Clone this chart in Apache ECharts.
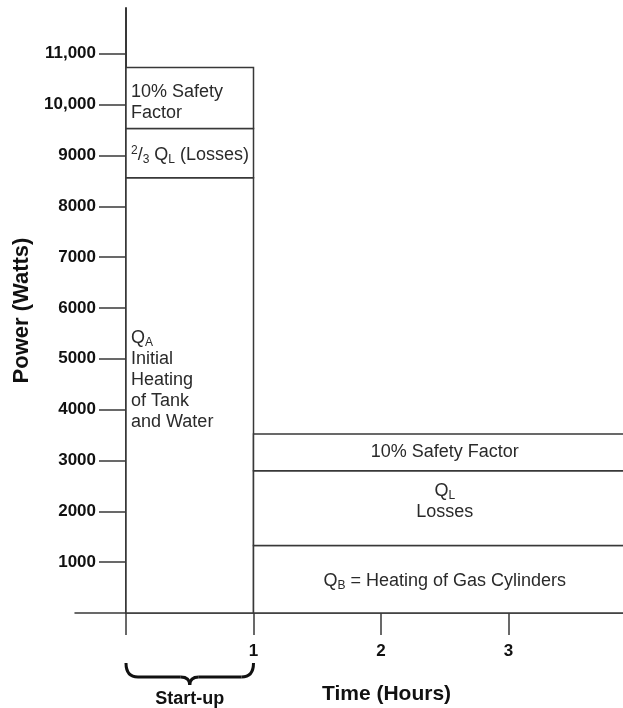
<!DOCTYPE html>
<html>
<head>
<meta charset="utf-8">
<script src="https://cdn.jsdelivr.net/npm/echarts@6/dist/echarts.min.js"></script>
<style>
  html, body { margin: 0; padding: 0; background: #fff; }
  #chart { width: 623px; height: 708px; }
</style>
</head>
<body>
<div id="chart"></div>
<script>
// axis ticks
const hourTicks = [0, 1, 2, 3]
const hourLabelValues = [1, 2, 3]
const powerTicks = [1000, 2000, 3000, 4000, 5000, 6000, 7000, 8000, 9000, 10000, 11000]
const powerTickLabels = ['1000', '2000', '3000', '4000', '5000', '6000', '7000', '8000', '9000', '10,000', '11,000']

// start-up hour: stacked parts (W), bottom to top
const startupPeriod = [0, 1]
const startupParts = [8560, 970, 1200]
const startupTexts = [
  '{q|Q}{sub|A}\nInitial\nHeating\nof Tank\nand Water',
  '{sup|2}/{sub|3} {q|Q}{sub|L} (Losses)',
  '10% Safety\nFactor'
]

// after start-up: stacked parts (W), bottom to top
const runPeriod = [1, 4]
const runParts = [1330, 1470, 720]
const runTexts = [
  '{q|Q}{sub|B} = Heating of Gas Cylinders',
  '{q|Q}{sub|L}\nLosses',
  '10% Safety Factor'
]

const lineColor = '#383838'
const textColor = '#2a2a2a'
const fontFamily = '"Liberation Sans", Arial, Helvetica, sans-serif'

// build rectangles from the stacks
const boxes = []
const boxTexts = []
const boxAlign = []
const boxShift = []
function addStack(period, parts, texts, align, shifts) {
  let base = 0
  parts.forEach((v, i) => {
    boxes.push([period[0], period[1], base, base + v])
    boxTexts.push(texts[i])
    boxAlign.push(align)
    boxShift.push(shifts[i])
    base += v
  })
}
addStack(startupPeriod, startupParts, startupTexts, 'left', [-15, 2, 5])
addStack(runPeriod, runParts, runTexts, 'center', [2, -6, 0])

const richStyles = {
  q: { fontSize: 18 },
  sub: { fontSize: 12, verticalAlign: 'bottom' },
  sup: { fontSize: 12, verticalAlign: 'top' }
}

const chart = echarts.init(document.getElementById('chart'))

chart.setOption({
  animation: false,
  backgroundColor: '#fff',
  grid: {
    left: 75,
    right: -13,
    top: 8,
    bottom: 95,
    containLabel: false,
    outerBoundsMode: 'none'
  },
  xAxis: {
    type: 'value',
    min: -0.4,
    max: 4,
    name: 'Time (Hours)',
    nameLocation: 'middle',
    nameGap: 71,
    nameTextStyle: {
      color: '#111',
      fontFamily,
      fontWeight: 'bold',
      fontSize: 21,
      verticalAlign: 'top',
      padding: [0, 0, 0, 62]
    },
    axisLine: { lineStyle: { color: lineColor, width: 1.5 } },
    axisTick: {
      customValues: hourTicks,
      length: 22,
      lineStyle: { color: lineColor, width: 1.5 }
    },
    axisLabel: {
      customValues: hourLabelValues,
      margin: 30,
      color: '#111',
      fontFamily,
      fontWeight: 'bold',
      fontSize: 17
    },
    splitLine: { show: false }
  },
  yAxis: {
    type: 'value',
    min: 0,
    max: 11900,
    name: 'Power (Watts)',
    nameLocation: 'middle',
    nameRotate: 90,
    nameGap: 40,
    nameTextStyle: {
      color: '#111',
      fontFamily,
      fontWeight: 'bold',
      fontSize: 22
    },
    axisLine: { onZero: true, lineStyle: { color: lineColor, width: 2 } },
    axisTick: {
      customValues: powerTicks,
      length: 27,
      lineStyle: { color: lineColor, width: 1.5 }
    },
    axisLabel: {
      customValues: powerTicks,
      margin: -21,
      color: '#111',
      fontFamily,
      fontWeight: 'bold',
      fontSize: 17,
      formatter: v => powerTickLabels[powerTicks.indexOf(v)]
    },
    splitLine: { show: false }
  },
  series: [
    {
      type: 'custom',
      data: boxes,
      encode: { x: [0, 1], y: [2, 3] },
      renderItem(params, api) {
        const p0 = api.coord([api.value(0), api.value(2)])
        const p1 = api.coord([api.value(1), api.value(3)])
        const left = p0[0]
        const right = p1[0]
        const bottom = p0[1]
        const top = p1[1]
        const i = params.dataIndex
        const align = boxAlign[i]
        return {
          type: 'group',
          children: [
            {
              type: 'rect',
              shape: { x: left, y: top, width: right - left, height: bottom - top },
              style: { fill: '#fff', stroke: lineColor, lineWidth: 1.5 }
            },
            {
              type: 'text',
              x: align === 'left' ? left + 5 : (left + right) / 2,
              y: (top + bottom) / 2 + boxShift[i],
              style: {
                text: boxTexts[i],
                fill: textColor,
                fontFamily,
                fontSize: 18,
                lineHeight: 21,
                align,
                verticalAlign: 'middle',
                rich: richStyles
              }
            }
          ]
        }
      },
      z: 1
    }
  ]
})

// brace under the start-up hour
const a = chart.convertToPixel({ gridIndex: 0 }, [startupPeriod[0], 0])
const b = chart.convertToPixel({ gridIndex: 0 }, [startupPeriod[1], 0])
const x0 = a[0]
const x1 = b[0]
const xm = (x0 + x1) / 2
const yTop = a[1] + 50
const yMid = a[1] + 64
const yTip = a[1] + 72
const braceStyle = { fill: 'none', stroke: '#111', lineWidth: 3 }
function curve(xa, ya, cx, cy, xb, yb) {
  return { type: 'bezierCurve', shape: { x1: xa, y1: ya, cpx1: cx, cpy1: cy, x2: xb, y2: yb }, style: braceStyle }
}
function seg(xa, ya, xb, yb) {
  return { type: 'line', shape: { x1: xa, y1: ya, x2: xb, y2: yb }, style: braceStyle }
}
chart.setOption({
  graphic: [
    curve(x0, yTop, x0, yMid, x0 + 12, yMid),
    seg(x0 + 12, yMid, xm - 9, yMid),
    curve(xm - 9, yMid, xm, yMid, xm, yTip),
    curve(xm, yTip, xm, yMid, xm + 9, yMid),
    seg(xm + 9, yMid, x1 - 12, yMid),
    curve(x1 - 12, yMid, x1, yMid, x1, yTop),
    {
      type: 'text',
      x: xm,
      y: a[1] + 86,
      style: {
        text: 'Start-up',
        fill: '#111',
        fontFamily,
        fontWeight: 'bold',
        fontSize: 18,
        align: 'center',
        verticalAlign: 'middle'
      }
    }
  ]
})
</script>
</body>
</html>
